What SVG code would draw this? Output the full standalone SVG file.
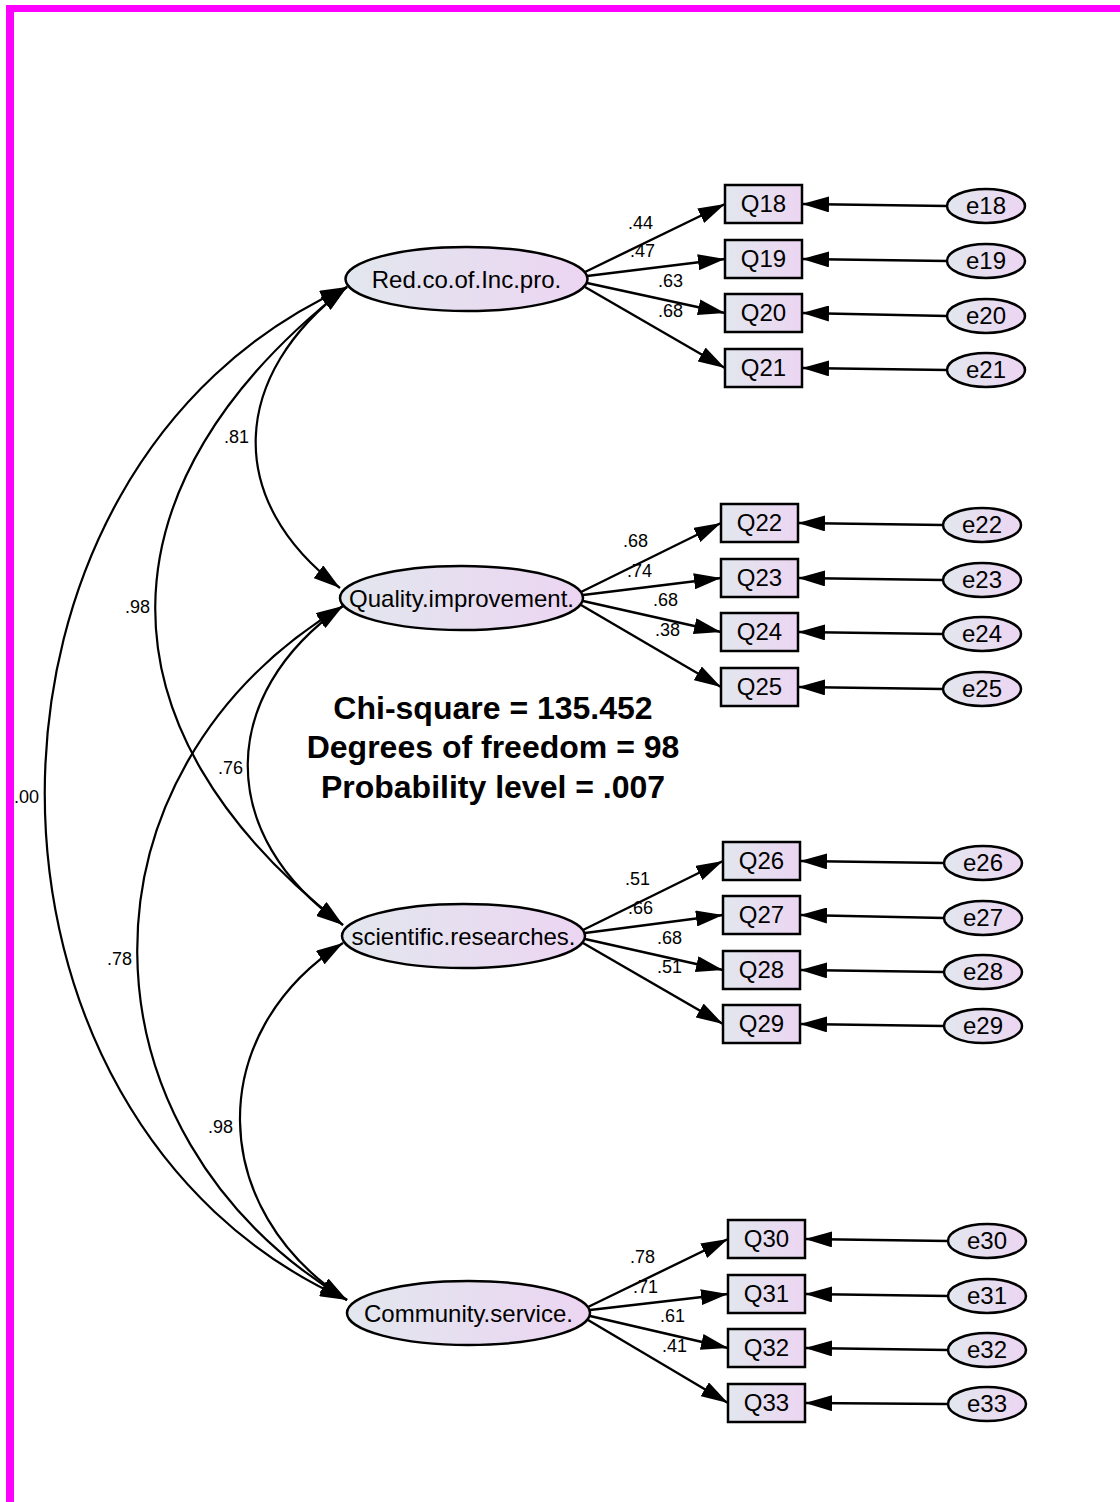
<svg xmlns="http://www.w3.org/2000/svg" width="1120" height="1502" viewBox="0 0 1120 1502">
<defs>
<linearGradient id="fillg" x1="0" y1="0" x2="1" y2="0">
<stop offset="0" stop-color="#e2e7ee"/>
<stop offset="1" stop-color="#ecd5f2"/>
</linearGradient>
<marker id="ah" markerWidth="27" markerHeight="16" refX="27" refY="8" orient="auto" markerUnits="userSpaceOnUse">
<path d="M0,0 L27,8 L0,16 Z" fill="#000"/>
</marker>
<marker id="ahs" markerWidth="27" markerHeight="16" refX="27" refY="8" orient="auto-start-reverse" markerUnits="userSpaceOnUse">
<path d="M0,0 L27,8 L0,16 Z" fill="#000"/>
</marker>
</defs>
<style>
.shape{fill:url(#fillg);stroke:#000;stroke-width:2.5}
.lbl{font-family:"Liberation Sans",Arial,sans-serif;font-size:24px;fill:#000;text-anchor:middle}
.num{font-family:"Liberation Sans",Arial,sans-serif;font-size:18px;fill:#000}
.fit{font-family:"Liberation Sans",Arial,sans-serif;font-size:32px;font-weight:bold;fill:#000;text-anchor:middle}
.ln{fill:none;stroke:#000;stroke-width:2.4;marker-end:url(#ah)}
.cv{fill:none;stroke:#000;stroke-width:2.2;marker-start:url(#ahs);marker-end:url(#ahs)}
</style>
<rect width="1120" height="1502" fill="#fff"/>
<g id="frame" fill="#ff00ff">
<rect x="6" y="5" width="1114" height="7"/>
<rect x="6" y="5" width="8" height="1497"/>
</g>

<g id="connectors">
<path class="cv" d="M347,287 C230,375 223,500 340,588"/>
<path class="cv" d="M347,287 C94,484 90,728 343,925"/>
<path class="cv" d="M347,287 C-56,468 -56,1119 347,1300"/>
<path class="cv" d="M343,606 C216,695 216,836 343,925"/>
<path class="cv" d="M343,606 C66,772 70,1134 347,1300"/>
<path class="cv" d="M343,943 C203,1033 207,1210 347,1300"/>
<line class="ln" x1="585" y1="272" x2="725" y2="204"/>
<line class="ln" x1="587" y1="276" x2="725" y2="259"/>
<line class="ln" x1="587" y1="283" x2="725" y2="313"/>
<line class="ln" x1="585" y1="287" x2="725" y2="368"/>
<line class="ln" x1="581" y1="592" x2="721" y2="523"/>
<line class="ln" x1="583" y1="595" x2="721" y2="578"/>
<line class="ln" x1="583" y1="601" x2="721" y2="632"/>
<line class="ln" x1="581" y1="605" x2="721" y2="687"/>
<line class="ln" x1="583" y1="930" x2="723" y2="861"/>
<line class="ln" x1="585" y1="933" x2="723" y2="915"/>
<line class="ln" x1="585" y1="939" x2="723" y2="970"/>
<line class="ln" x1="583" y1="943" x2="723" y2="1024"/>
<line class="ln" x1="588" y1="1307" x2="728" y2="1239"/>
<line class="ln" x1="590" y1="1310" x2="728" y2="1294"/>
<line class="ln" x1="590" y1="1316" x2="728" y2="1348"/>
<line class="ln" x1="588" y1="1320" x2="728" y2="1403"/>
<line class="ln" x1="947" y1="206" x2="802" y2="204"/>
<line class="ln" x1="947" y1="261" x2="802" y2="259"/>
<line class="ln" x1="947" y1="316" x2="802" y2="313"/>
<line class="ln" x1="947" y1="370" x2="802" y2="368"/>
<line class="ln" x1="943" y1="525" x2="798" y2="523"/>
<line class="ln" x1="943" y1="580" x2="798" y2="578"/>
<line class="ln" x1="943" y1="634" x2="798" y2="632"/>
<line class="ln" x1="943" y1="689" x2="798" y2="687"/>
<line class="ln" x1="944" y1="863" x2="800" y2="861"/>
<line class="ln" x1="944" y1="918" x2="800" y2="915"/>
<line class="ln" x1="944" y1="972" x2="800" y2="970"/>
<line class="ln" x1="944" y1="1026" x2="800" y2="1024"/>
<line class="ln" x1="948" y1="1241" x2="805" y2="1239"/>
<line class="ln" x1="948" y1="1296" x2="805" y2="1294"/>
<line class="ln" x1="948" y1="1350" x2="805" y2="1348"/>
<line class="ln" x1="948" y1="1404" x2="805" y2="1403"/>
<text class="num" x="224" y="443">.81</text>
<text class="num" x="125" y="613">.98</text>
<text class="num" x="14" y="803">.00</text>
<text class="num" x="218" y="774">.76</text>
<text class="num" x="107" y="965">.78</text>
<text class="num" x="208" y="1133">.98</text>
<text class="num" x="628" y="229">.44</text>
<text class="num" x="630" y="257">.47</text>
<text class="num" x="658" y="287">.63</text>
<text class="num" x="658" y="317">.68</text>
<text class="num" x="623" y="547">.68</text>
<text class="num" x="627" y="577">.74</text>
<text class="num" x="653" y="606">.68</text>
<text class="num" x="655" y="636">.38</text>
<text class="num" x="625" y="885">.51</text>
<text class="num" x="628" y="914">.66</text>
<text class="num" x="657" y="944">.68</text>
<text class="num" x="657" y="973">.51</text>
<text class="num" x="630" y="1263">.78</text>
<text class="num" x="633" y="1293">.71</text>
<text class="num" x="660" y="1322">.61</text>
<text class="num" x="662" y="1352">.41</text>
</g>

<g id="lat1"><ellipse class="shape" cx="466.5" cy="279" rx="121" ry="32"/><text class="lbl" x="466.5" y="288">Red.co.of.Inc.pro.</text></g>
<g id="lat2"><ellipse class="shape" cx="461.5" cy="598" rx="121.5" ry="32"/><text class="lbl" x="461.5" y="607">Quality.improvement.</text></g>
<g id="lat3"><ellipse class="shape" cx="463.5" cy="936" rx="121.5" ry="32"/><text class="lbl" x="463.5" y="945">scientific.researches.</text></g>
<g id="lat4"><ellipse class="shape" cx="468.5" cy="1313" rx="121.5" ry="32"/><text class="lbl" x="468.5" y="1322">Community.service.</text></g>

<g id="Q18"><rect class="shape" x="725" y="185" width="77" height="38"/><text class="lbl" x="763.5" y="212">Q18</text></g>
<g id="Q19"><rect class="shape" x="725" y="240" width="77" height="38"/><text class="lbl" x="763.5" y="267">Q19</text></g>
<g id="Q20"><rect class="shape" x="725" y="294" width="77" height="38"/><text class="lbl" x="763.5" y="321">Q20</text></g>
<g id="Q21"><rect class="shape" x="725" y="349" width="77" height="38"/><text class="lbl" x="763.5" y="376">Q21</text></g>
<g id="Q22"><rect class="shape" x="721" y="504" width="77" height="38"/><text class="lbl" x="759.5" y="531">Q22</text></g>
<g id="Q23"><rect class="shape" x="721" y="559" width="77" height="38"/><text class="lbl" x="759.5" y="586">Q23</text></g>
<g id="Q24"><rect class="shape" x="721" y="613" width="77" height="38"/><text class="lbl" x="759.5" y="640">Q24</text></g>
<g id="Q25"><rect class="shape" x="721" y="668" width="77" height="38"/><text class="lbl" x="759.5" y="695">Q25</text></g>
<g id="Q26"><rect class="shape" x="723" y="842" width="77" height="38"/><text class="lbl" x="761.5" y="869">Q26</text></g>
<g id="Q27"><rect class="shape" x="723" y="896" width="77" height="38"/><text class="lbl" x="761.5" y="923">Q27</text></g>
<g id="Q28"><rect class="shape" x="723" y="951" width="77" height="38"/><text class="lbl" x="761.5" y="978">Q28</text></g>
<g id="Q29"><rect class="shape" x="723" y="1005" width="77" height="38"/><text class="lbl" x="761.5" y="1032">Q29</text></g>
<g id="Q30"><rect class="shape" x="728" y="1220" width="77" height="38"/><text class="lbl" x="766.5" y="1247">Q30</text></g>
<g id="Q31"><rect class="shape" x="728" y="1275" width="77" height="38"/><text class="lbl" x="766.5" y="1302">Q31</text></g>
<g id="Q32"><rect class="shape" x="728" y="1329" width="77" height="38"/><text class="lbl" x="766.5" y="1356">Q32</text></g>
<g id="Q33"><rect class="shape" x="728" y="1384" width="77" height="38"/><text class="lbl" x="766.5" y="1411">Q33</text></g>

<g id="e18"><ellipse class="shape" cx="986" cy="206" rx="39" ry="17"/><text class="lbl" x="986" y="214">e18</text></g>
<g id="e19"><ellipse class="shape" cx="986" cy="261" rx="39" ry="17"/><text class="lbl" x="986" y="269">e19</text></g>
<g id="e20"><ellipse class="shape" cx="986" cy="316" rx="39" ry="17"/><text class="lbl" x="986" y="324">e20</text></g>
<g id="e21"><ellipse class="shape" cx="986" cy="370" rx="39" ry="17"/><text class="lbl" x="986" y="378">e21</text></g>
<g id="e22"><ellipse class="shape" cx="982" cy="525" rx="39" ry="17"/><text class="lbl" x="982" y="533">e22</text></g>
<g id="e23"><ellipse class="shape" cx="982" cy="580" rx="39" ry="17"/><text class="lbl" x="982" y="588">e23</text></g>
<g id="e24"><ellipse class="shape" cx="982" cy="634" rx="39" ry="17"/><text class="lbl" x="982" y="642">e24</text></g>
<g id="e25"><ellipse class="shape" cx="982" cy="689" rx="39" ry="17"/><text class="lbl" x="982" y="697">e25</text></g>
<g id="e26"><ellipse class="shape" cx="983" cy="863" rx="39" ry="17"/><text class="lbl" x="983" y="871">e26</text></g>
<g id="e27"><ellipse class="shape" cx="983" cy="918" rx="39" ry="17"/><text class="lbl" x="983" y="926">e27</text></g>
<g id="e28"><ellipse class="shape" cx="983" cy="972" rx="39" ry="17"/><text class="lbl" x="983" y="980">e28</text></g>
<g id="e29"><ellipse class="shape" cx="983" cy="1026" rx="39" ry="17"/><text class="lbl" x="983" y="1034">e29</text></g>
<g id="e30"><ellipse class="shape" cx="987" cy="1241" rx="39" ry="17"/><text class="lbl" x="987" y="1249">e30</text></g>
<g id="e31"><ellipse class="shape" cx="987" cy="1296" rx="39" ry="17"/><text class="lbl" x="987" y="1304">e31</text></g>
<g id="e32"><ellipse class="shape" cx="987" cy="1350" rx="39" ry="17"/><text class="lbl" x="987" y="1358">e32</text></g>
<g id="e33"><ellipse class="shape" cx="987" cy="1404" rx="39" ry="17"/><text class="lbl" x="987" y="1412">e33</text></g>

<g id="fit">
<text class="fit" x="493" y="719">Chi-square = 135.452</text>
<text class="fit" x="493" y="758">Degrees of freedom = 98</text>
<text class="fit" x="493" y="798">Probability level = .007</text>
</g>
</svg>
